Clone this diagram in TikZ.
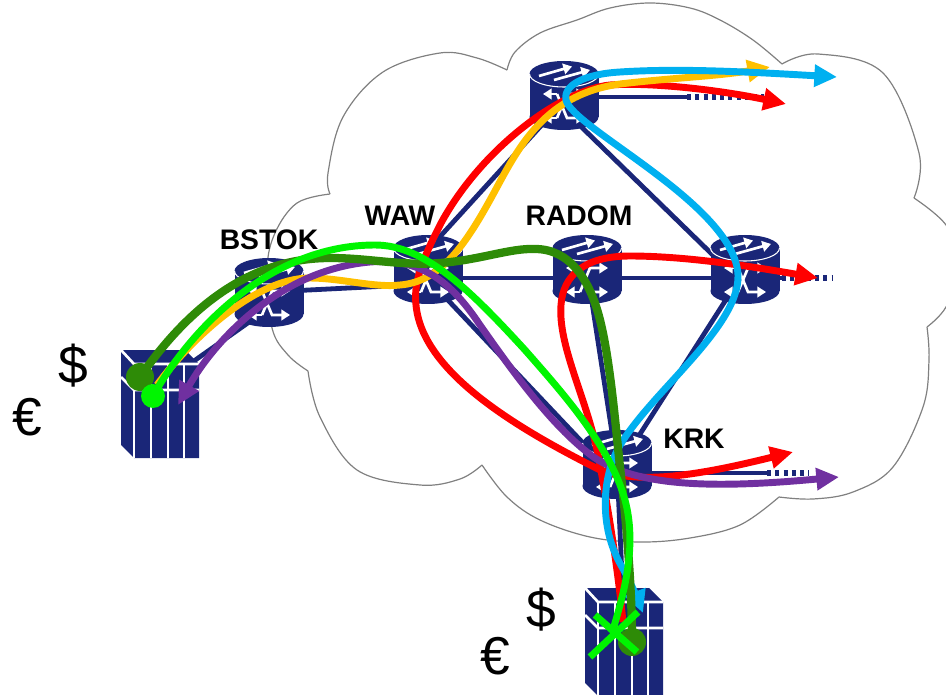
\documentclass[tikz,border=0pt]{standalone}
\usepackage{fontspec}
\setmainfont{Liberation Sans}
\usetikzlibrary{arrows.meta}
\definecolor{navy}{HTML}{1A2678}
\definecolor{cred}{HTML}{FF0000}
\definecolor{corange}{HTML}{FFC000}
\definecolor{cblue}{HTML}{00B0F0}
\definecolor{cpurple}{HTML}{7030A0}
\definecolor{cdark}{HTML}{2E8B07}
\definecolor{cgreen}{HTML}{00F500}
\tikzset{
  cloudline/.style={draw=black!50,line width=0.9pt},
  link/.style={draw=navy,line width=3.6pt},
  dotlink/.style={draw=navy,line width=3.8pt,dash pattern=on 3pt off 3.2pt},
  flow/.style={line width=5.2pt,line join=round},
  head/.style={-{Triangle[length=17pt,width=16pt]}},
  starthead/.style={{Triangle[length=17pt,width=16pt]}-},
  twoheads/.style={{Triangle[length=17pt,width=16pt]}-{Triangle[length=17pt,width=16pt]}},
  place/.style={font=\fontsize{21.2}{24}\selectfont\bfseries,inner sep=0pt},
  money/.style={font=\fontsize{40}{44}\selectfont,inner sep=0pt},
  router/.pic={
    \fill[navy] (0,-22) ellipse (34.5 and 13);
    \fill[navy] (-34.5,-22) rectangle (34.5,21);
    \fill[navy] (0,21) ellipse (34.5 and 13);
    \draw[white,line width=0.8pt] (-34.5,-22) .. controls (-34.5,-14.8) and (-19,-9) .. (0,-9) .. controls (19,-9) and (34.5,-14.8) .. (34.5,-22);
    \draw[white,line width=2pt,-{Triangle[length=6.5pt,width=8pt]}] (-25,-20) -- (8,-29.5);
    \draw[white,line width=2pt,-{Triangle[length=6.5pt,width=8pt]}] (-10,-16) -- (26,-26);
    \draw[white,line width=2pt,-{Triangle[length=6.5pt,width=8pt]}] (-7,22) -- (-21,22);
    \draw[white,line width=2pt,-{Triangle[length=6.5pt,width=8pt]}] (-7,22) -- (3,-2) -- (21,-2);
    \draw[white,line width=2pt,-{Triangle[length=6.5pt,width=8pt]}] (-7,-2) -- (-21,-2);
    \draw[white,line width=2pt,-{Triangle[length=6.5pt,width=8pt]}] (-7,-2) -- (3,22) -- (21,22);
  },
  server/.pic={
    \fill[navy] (0,0) -- (64,0) -- (78,14) -- (78,108) -- (13,108) -- (0,95) -- cycle;
    \draw[white,line width=2pt] (0,0) -- (13,14) -- (78,14);
    \draw[white,line width=2pt] (0,27) -- (13,40) -- (78,40);
    \draw[white,line width=2pt] (13,14) -- (13,108) (30,14) -- (30,108) (47,14) -- (47,108) (63,14) -- (63,108);
  }
}
\begin{document}
\begin{tikzpicture}[x=0.75pt,y=-0.75pt]
\clip (0,0) rectangle (946,695);
% cloud
\draw[cloudline] plot[smooth,tension=0.6] coordinates {(507,70) (515,52) (540,33) (577,20) (610,8) (650,3) (690,8) (720,20) (753,40) (782,64)};
\draw[cloudline] plot[smooth,tension=0.6] coordinates {(782,64) (818,54) (883,73) (919,153) (914,198)};
\draw[cloudline] plot[smooth,tension=0.6] coordinates {(914,198) (946,225) (962,265) (946,307) (927,327)};
\draw[cloudline] plot[smooth,tension=0.6] coordinates {(927,327) (929,360) (923,407) (893,467) (853,492) (813,499) (779,497)};
\draw[cloudline] plot[smooth,tension=0.6] coordinates {(779,497) (740,525) (690,538) (640,542) (590,537) (540,520) (507,497) (482,465)};
\draw[cloudline] plot[smooth,tension=0.6] coordinates {(482,465) (460,479) (420,485) (357,470) (320,417) (308,371)};
\draw[cloudline] plot[smooth,tension=0.6] coordinates {(308,371) (288,355) (272,328) (267,270) (275,233) (297,203) (330,194)};
\draw[cloudline] plot[smooth,tension=0.6] coordinates {(330,194) (328,173) (343,117) (383,72) (440,53) (477,58) (507,70)};
% anchor points
\coordinate (bstok) at (269,293);
\coordinate (waw) at (428,270);
\coordinate (radom) at (587,270);
\coordinate (east) at (745,270);
\coordinate (north) at (564,96);
\coordinate (krk) at (617,465);
\coordinate (srvL) at (160,385);
\coordinate (srvB) at (624,620);
\coordinate (bstokA) at (269,308);
\coordinate (bstokB) at (269,292);
\coordinate (wawA) at (428,284);
\coordinate (wawB) at (415,264);
\coordinate (wawC) at (428,279);
\coordinate (northA) at (560,105);
\coordinate (northB) at (564,110);
\coordinate (eastA) at (720,262);
\coordinate (krkA) at (617,479);
\coordinate (krkB) at (617,470);
\coordinate (northEnd) at (687,97);
\coordinate (northDots) at (764,97);
\coordinate (eastEnd) at (782,278);
\coordinate (eastDots) at (832,278);
\coordinate (krkEnd) at (767,473);
\coordinate (krkDots) at (809,473);
% links
\draw[link] (srvL) -- (bstokA);
\draw[link] (bstokB) -- (wawA);
\draw[link] (wawB) -- (northA);
\draw[link] (northB) -- (eastA);
\draw[link] (wawC) -- (krkA);
\draw[link] (radom) -- (krk);
\draw[link] (east) -- (krkB);
\draw[link] (krk) -- (srvB);
\draw[link] (waw |- 0,278) -- (east |- 0,278);
\draw[link] (east |- 0,278) -- (eastEnd);
\draw[dotlink] (eastEnd) -- (eastDots);
\draw[link] (north |- 0,97) -- (northEnd);
\draw[dotlink] (northEnd) -- (northDots);
\draw[link] (krk |- 0,473) -- (krkEnd);
\draw[dotlink] (krkEnd) -- (krkDots);
% devices
\pic at (bstok) {router};
\pic at (waw) {router};
\pic at (radom) {router};
\pic at (east) {router};
\pic at (north) {router};
\pic at (krk) {router};
\pic at (121,350) {server};
\pic at (585,588) {server};
% labels
\node[place] (lblBstok) at (269,240) {BSTOK};
\node[place] (lblWaw) at (400,216) {WAW};
\node[place] (lblRadom) at (579,216) {RADOM};
\node[place] (lblKrk) at (694,439) {KRK};
\node[money] (dollarL) at (73,366) {\$};
\node[money] (euroL) at (27,417) {€};
\node[money] (dollarB) at (541,610) {\$};
\node[money] (euroB) at (495,656) {€};
% flows
\coordinate (dkL) at (140,377);
\coordinate (dkB) at (632,642);
\coordinate (grL) at (153,396);
\coordinate (grB) at (612,633);
\draw[flow,cred,head] (623,622) .. controls (617,560) and (605,490) .. (597,450) .. controls (585,395) and (558,345) .. (561,305) .. controls (563,275) and (585,256) .. (630,256) .. controls (690,256) and (760,268) .. (818,278);
\draw[flow,cred,starthead] (786,104) .. controls (720,90) and (650,82) .. (610,85) .. controls (560,90) and (480,150) .. (440,225) .. controls (425,255) and (413,280) .. (416,305) .. controls (422,370) and (510,425) .. (600,470);
\draw[flow,cred,head] (600,470) .. controls (640,485) and (700,475) .. (793,452);
\draw[flow,corange,head] (157,385) .. controls (190,340) and (255,278) .. (310,278) .. controls (340,278) and (375,288) .. (400,285) .. controls (440,282) and (465,245) .. (490,200) .. controls (515,155) and (540,95) .. (620,84) .. controls (670,78) and (720,76) .. (770,67);
\draw[flow,cpurple,twoheads] (178,405) .. controls (215,340) and (280,270) .. (370,262) .. controls (420,258) and (450,280) .. (480,325) .. controls (515,375) and (555,430) .. (595,458) .. controls (640,488) and (720,488) .. (839,477);
\draw[flow,cblue,twoheads] (643,613) .. controls (638,600) and (630,581) .. (622,567) .. controls (600,530) and (602,484) .. (615,455) .. controls (640,400) and (740,330) .. (738,275) .. controls (735,205) and (572,128) .. (566,100) .. controls (563,85) and (585,74) .. (620,72) .. controls (680,68) and (750,72) .. (837,77);
\draw[cdark,line width=6.2pt,line join=round] (dkL) .. controls (180,320) and (240,258) .. (330,258) .. controls (370,258) and (400,266) .. (440,263) .. controls (480,260) and (510,248) .. (535,249) .. controls (570,249) and (590,280) .. (600,320) .. controls (610,360) and (615,420) .. (620,467) .. controls (625,510) and (632,580) .. (dkB);
\fill[cdark] (dkL) circle (14);
\fill[cdark] (dkB) circle (14);
\draw[flow,cgreen] (grL) .. controls (190,330) and (270,245) .. (375,245) .. controls (425,245) and (470,290) .. (525,350) .. controls (560,390) and (610,445) .. (625,500) .. controls (637,545) and (625,590) .. (grB);
\fill[cgreen] (grL) circle (12);
\draw[flow,cgreen] (590,657) -- (638,612) (595,615) -- (637,652);
\end{tikzpicture}
\end{document}
